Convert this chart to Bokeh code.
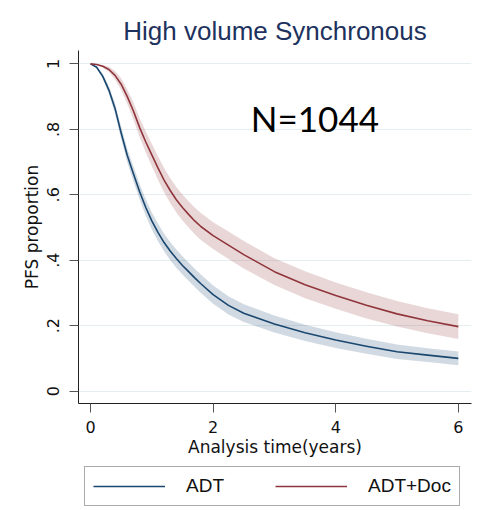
from bokeh.plotting import figure
from bokeh.layouts import column
from bokeh.models import (Range1d, FixedTicker, CustomJSTickFormatter, Legend,
                          LegendItem, Label)
from bokeh.embed import file_html
from bokeh.resources import INLINE

# ---------------- data ----------------
title_text = "High volume Synchronous"
n_text = "N=1044"
series_names = ["ADT", "ADT+Doc"]

time_years = [0, 0.1, 0.2, 0.3, 0.4, 0.5, 0.6, 0.7, 0.8, 0.9, 1.0, 1.1, 1.2,
              1.3, 1.4, 1.5, 1.6, 1.7, 1.8, 2.0, 2.25, 2.5, 3.0, 3.5, 4.0, 4.5,
              5.0, 5.5, 6.0]

adt_pfs = [1.0, 0.99, 0.962, 0.92, 0.864, 0.789, 0.72, 0.664, 0.61, 0.562, 0.52,
           0.485, 0.454, 0.428, 0.405, 0.384, 0.365, 0.346, 0.328, 0.295, 0.262,
           0.238, 0.205, 0.178, 0.156, 0.137, 0.12, 0.11, 0.10]
adt_lower = [1.0, 0.987, 0.954, 0.908, 0.848, 0.770, 0.699, 0.641, 0.586, 0.537,
             0.494, 0.458, 0.427, 0.400, 0.377, 0.356, 0.337, 0.318, 0.300, 0.267,
             0.234, 0.211, 0.179, 0.153, 0.132, 0.114, 0.098, 0.089, 0.079]
adt_upper = [1.0, 0.993, 0.970, 0.932, 0.880, 0.808, 0.741, 0.687, 0.634, 0.587,
             0.546, 0.512, 0.481, 0.456, 0.433, 0.412, 0.393, 0.374, 0.356, 0.323,
             0.290, 0.265, 0.231, 0.203, 0.180, 0.160, 0.142, 0.131, 0.121]

doc_pfs = [1.0, 0.998, 0.993, 0.983, 0.965, 0.938, 0.90, 0.856, 0.806, 0.762,
           0.722, 0.682, 0.645, 0.613, 0.585, 0.561, 0.540, 0.520, 0.503, 0.475,
           0.446, 0.417, 0.365, 0.325, 0.292, 0.262, 0.236, 0.215, 0.197]
doc_lower = [1.0, 0.997, 0.989, 0.975, 0.952, 0.920, 0.878, 0.830, 0.777, 0.730,
             0.688, 0.646, 0.608, 0.575, 0.546, 0.521, 0.500, 0.479, 0.462, 0.434,
             0.404, 0.375, 0.324, 0.284, 0.252, 0.222, 0.197, 0.177, 0.159]
doc_upper = [1.0, 0.999, 0.997, 0.991, 0.978, 0.956, 0.922, 0.882, 0.835, 0.794,
             0.756, 0.718, 0.682, 0.651, 0.624, 0.601, 0.580, 0.561, 0.544, 0.516,
             0.488, 0.459, 0.406, 0.366, 0.332, 0.302, 0.275, 0.253, 0.235]

x_ticks = [0, 2, 4, 6]
y_ticks = [0, 0.2, 0.4, 0.6, 0.8, 1.0]
y_tick_labels = ["0", ".2", ".4", ".6", ".8", "1"]

# ---------------- styling ----------------
NAVY = "#1a476f"
MAROON = "#90353b"

p = figure(width=481, height=460, output_backend="svg", toolbar_location=None,
           x_range=Range1d(-0.196, 6.215), y_range=Range1d(-0.038, 1.041),
           min_border_left=78, min_border_right=10, min_border_top=50,
           min_border_bottom=57, background_fill_color="white",
           border_fill_color="white", outline_line_color=None)

p.title.text = title_text
p.title.align = "center"
p.title.text_font = "Liberation Sans"
p.title.text_font_size = "26px"
p.title.text_font_style = "normal"
p.title.text_color = "#1e325e"

# bands and curves
p.varea(x=time_years, y1=adt_lower, y2=adt_upper, fill_color=NAVY, fill_alpha=0.2)
p.varea(x=time_years, y1=doc_lower, y2=doc_upper, fill_color=MAROON, fill_alpha=0.2)
p.line(time_years, adt_pfs, line_color=NAVY, line_width=1.6, line_join="round")
p.line(time_years, doc_pfs, line_color=MAROON, line_width=1.6, line_join="round")

# axes
p.xaxis.ticker = FixedTicker(ticks=x_ticks)
p.yaxis.ticker = FixedTicker(ticks=y_ticks)
p.yaxis.formatter = CustomJSTickFormatter(
    args=dict(yt=y_ticks, yl=y_tick_labels),
    code="const i = yt.findIndex(t => Math.abs(t - tick) < 1e-9); return i >= 0 ? yl[i] : '';")
p.yaxis.major_label_orientation = "vertical"

for ax in (p.xaxis, p.yaxis):
    ax.axis_line_color = "#222222"
    ax.axis_line_width = 1
    ax.major_tick_line_color = "#555555"
    ax.major_tick_out = 9
    ax.major_tick_in = 0
    ax.minor_tick_line_color = None
    ax.major_label_text_font = "DejaVu Sans"
    ax.major_label_text_font_size = "16px"
    ax.major_label_text_color = "#111111"
    ax.axis_label_text_font = "DejaVu Sans"
    ax.axis_label_text_font_size = "17px"
    ax.axis_label_text_font_style = "normal"
    ax.axis_label_text_color = "#111111"

p.xaxis.axis_label = "Analysis time(years)"
p.yaxis.axis_label = "PFS proportion"
p.xaxis.major_label_standoff = 8
p.xaxis.axis_label_standoff = 1
p.yaxis.major_label_standoff = 10
p.yaxis.axis_label_standoff = 3

p.xgrid.visible = False
p.ygrid.grid_line_color = "#e4edf0"
p.ygrid.grid_line_width = 1.2

# annotation
p.add_layout(Label(x=3.66, y=0.834, text=n_text, text_align="center",
                   text_baseline="alphabetic", text_font="Lato",
                   text_font_size="35px", text_color="black"))

# ---------------- legend strip (a second, axis-less figure) ----------------
pl = figure(width=481, height=50, output_backend="svg", toolbar_location=None,
            x_range=Range1d(-0.196, 6.215), y_range=Range1d(10, 11),
            x_axis_type=None, y_axis_type=None, min_border=0,
            min_border_left=78, min_border_right=10,
            outline_line_color=None, background_fill_color="white",
            border_fill_color="white")
pl.xgrid.visible = False
pl.ygrid.visible = False
# same series, outside this strip's range: only their legend samples show
k_adt = pl.line(time_years, adt_pfs, line_color=NAVY, line_width=1.6)
k_doc = pl.line(time_years, doc_pfs, line_color=MAROON, line_width=1.6)

legend = Legend(items=[LegendItem(label=series_names[0], renderers=[k_adt]),
                       LegendItem(label=series_names[1], renderers=[k_doc])],
                orientation="horizontal", location=(6, 4),
                glyph_width=72, glyph_height=20, label_standoff=21, spacing=51,
                padding=8, margin=0, border_line_color="#555555",
                border_line_width=1, background_fill_color="white",
                background_fill_alpha=1.0,
                label_text_font="Liberation Sans", label_text_font_size="19px",
                label_text_color="#111111")
pl.add_layout(legend, "center")

layout = column(p, pl, spacing=0)
open("out.html", "w").write(file_html(layout, INLINE))
